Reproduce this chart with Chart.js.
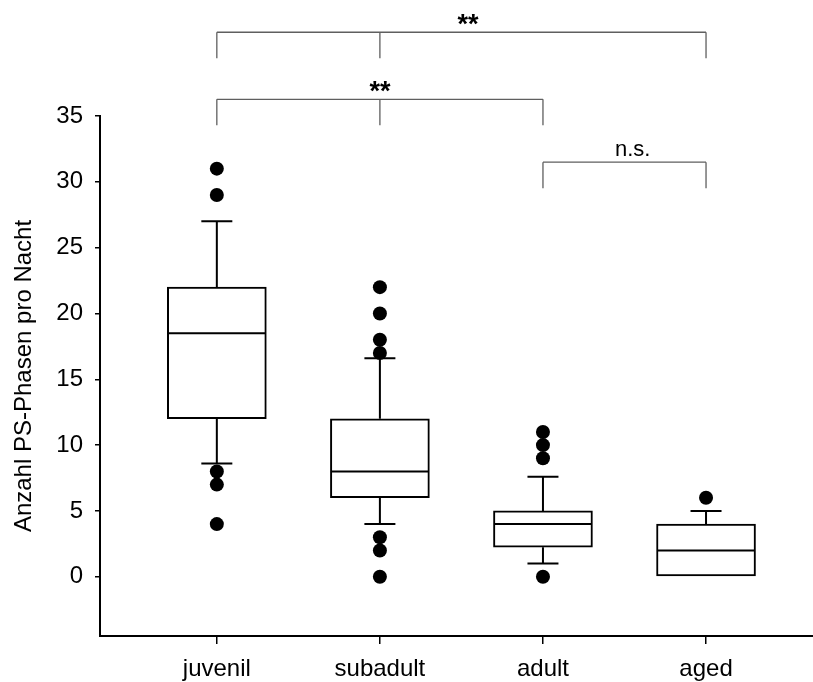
<!DOCTYPE html>
<html>
<head>
<meta charset="utf-8">
<script src="https://cdn.jsdelivr.net/npm/chart.js@4.4.0/dist/chart.umd.min.js"></script>
<style>
  html, body { margin: 0; padding: 0; background: #fff; }
</style>
</head>
<body>
<canvas id="myChart" width="813" height="682"></canvas>
<script>
var categories = ['juvenil', 'subadult', 'adult', 'aged'];

// box plot summary per age group
var q1 = [12, 6, 2.25, 0];
var median = [18.5, 8, 4, 2];
var q3 = [22, 12, 5, 4];
var whiskerLow = [8.6, 4, 1, 0];
var whiskerHigh = [27, 16.6, 7.6, 5];
var outliers = [
  [31, 29, 8, 7, 4],
  [22, 20, 18, 17, 3, 2, 0],
  [11, 10, 9, 0],
  [6]
];

var yTicks = [0, 5, 10, 15, 20, 25, 30, 35];

// significance brackets: groups joined, label, label x position
var bracketGroups = [[0, 1, 3], [0, 1, 2], [2, 3]];
var bracketLabels = ['**', '**', 'n.s.'];
var bracketLabelX = [1.54, 1, 2.55];
var bracketLevels = [41.36, 36.27, 31.49];

Chart.defaults.font.family = '"Liberation Sans", Arial, sans-serif';
Chart.defaults.color = '#000';

var boxData = [];
var outlierData = [];
for (var i = 0; i < categories.length; i++) {
  boxData.push({ x: i, y: [q1[i], q3[i]] });
  for (var j = 0; j < outliers[i].length; j++) {
    outlierData.push({ x: i, y: outliers[i][j] });
  }
}

var whiskerPlugin = {
  id: 'whiskers',
  afterDatasetsDraw: function(chart) {
    var ctx = chart.ctx;
    var xs = chart.scales.x, ys = chart.scales.y;
    ctx.save();
    ctx.strokeStyle = '#000';
    ctx.lineWidth = 2;
    for (var i = 0; i < categories.length; i++) {
      var x = xs.getPixelForValue(i);
      var half = 49, cap = 15.5;
      var yMed = ys.getPixelForValue(median[i]);
      ctx.beginPath();
      ctx.moveTo(x - half, yMed);
      ctx.lineTo(x + half, yMed);
      if (whiskerHigh[i] > q3[i]) {
        var yT = ys.getPixelForValue(q3[i]);
        var yW = ys.getPixelForValue(whiskerHigh[i]);
        ctx.moveTo(x, yT);
        ctx.lineTo(x, yW);
        ctx.moveTo(x - cap, yW);
        ctx.lineTo(x + cap, yW);
      }
      if (whiskerLow[i] < q1[i]) {
        var yB = ys.getPixelForValue(q1[i]);
        var yL = ys.getPixelForValue(whiskerLow[i]);
        ctx.moveTo(x, yB);
        ctx.lineTo(x, yL);
        ctx.moveTo(x - cap, yL);
        ctx.lineTo(x + cap, yL);
      }
      ctx.stroke();
    }
    ctx.restore();
  }
};

var bracketPlugin = {
  id: 'brackets',
  afterDraw: function(chart) {
    var ctx = chart.ctx;
    var xs = chart.scales.x, ys = chart.scales.y;
    ctx.save();
    ctx.strokeStyle = '#5f5f5f';
    ctx.lineWidth = 1.3;
    for (var b = 0; b < bracketGroups.length; b++) {
      var g = bracketGroups[b];
      var yTop = ys.getPixelForValue(bracketLevels[b]);
      var yDrop = yTop + 26;
      ctx.beginPath();
      ctx.moveTo(xs.getPixelForValue(g[0]), yTop);
      ctx.lineTo(xs.getPixelForValue(g[g.length - 1]), yTop);
      for (var k = 0; k < g.length; k++) {
        var gx = xs.getPixelForValue(g[k]);
        ctx.moveTo(gx, yTop);
        ctx.lineTo(gx, yDrop);
      }
      ctx.stroke();

      ctx.fillStyle = '#000';
      ctx.textAlign = 'center';
      ctx.textBaseline = 'alphabetic';
      var lx = xs.getPixelForValue(bracketLabelX[b]);
      if (bracketLabels[b] === 'n.s.') {
        ctx.font = '22px "Liberation Sans", Arial, sans-serif';
        ctx.fillText(bracketLabels[b], lx, yTop - 6);
      } else {
        ctx.font = 'bold 27px "Liberation Sans", Arial, sans-serif';
        ctx.fillText(bracketLabels[b], lx, yTop + 1);
      }
    }
    ctx.restore();
  }
};

var ctx = document.getElementById('myChart').getContext('2d');
var chart = new Chart(ctx, {
  type: 'bar',
  data: {
    datasets: [{
      label: 'box',
      data: boxData,
      backgroundColor: '#fff',
      borderColor: '#000',
      borderWidth: 2,
      borderSkipped: false,
      barThickness: 99
    }, {
      type: 'scatter',
      label: 'outliers',
      data: outlierData,
      pointRadius: 7,
      pointBackgroundColor: '#000',
      pointBorderWidth: 0,
      clip: false
    }]
  },
  options: {
    responsive: false,
    animation: false,
    layout: { autoPadding: false, padding: { top: 116, left: 0, right: 0, bottom: 0 } },
    plugins: {
      legend: { display: false },
      tooltip: { enabled: false }
    },
    scales: {
      x: {
        type: 'linear',
        min: -0.7165,
        max: 3.656,
        offset: false,
        grid: { display: true, offset: false, drawOnChartArea: false, drawTicks: true, tickLength: 8, color: '#000', lineWidth: 1.5 },
        border: { display: true, color: '#000', width: 2 },
        afterBuildTicks: function(axis) {
          axis.ticks = categories.map(function(c, i) { return { value: i }; });
        },
        afterFit: function(axis) {
          axis.height = 46;
        },
        ticks: {
          font: { size: 24 },
          padding: 11,
          maxRotation: 0,
          callback: function(v) { return categories[v]; }
        }
      },
      y: {
        type: 'linear',
        min: -4.5,
        max: 35,
        grid: { display: true, drawOnChartArea: false, drawTicks: true, tickLength: 5, color: '#000', lineWidth: 1.5 },
        border: { display: true, color: '#000', width: 2 },
        afterBuildTicks: function(axis) {
          axis.ticks = yTicks.map(function(v) { return { value: v }; });
        },
        ticks: { font: { size: 24 }, padding: 12 },
        title: {
          display: true,
          text: 'Anzahl PS-Phasen pro Nacht',
          font: { size: 24 },
          padding: { top: 10, bottom: 5.5 }
        }
      }
    }
  },
  plugins: [whiskerPlugin, bracketPlugin]
});
</script>
</body>
</html>
